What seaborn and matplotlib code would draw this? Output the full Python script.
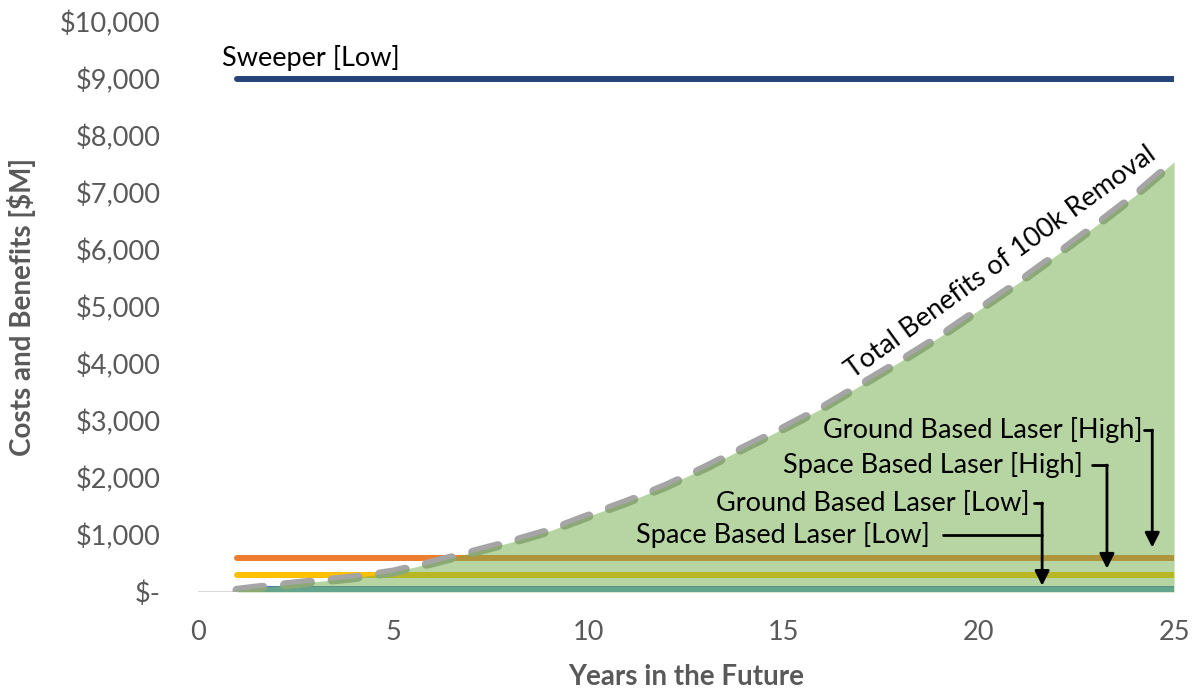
import numpy as np
import pandas as pd
import matplotlib
matplotlib.use("Agg")
import matplotlib.pyplot as plt
import seaborn as sns

# -----------------------------------------------
# Data
# -----------------------------------------------
years = list(range(1, 26))

# total benefits of removing 100k objects [$M]
benefits = [30, 110, 180, 250, 350, 510, 690, 870, 1070, 1330,
            1580, 1860, 2180, 2530, 2870, 3230, 3640, 4050, 4480, 4950,
            5420, 5920, 6430, 6960, 7550]

# cost options [$M], flat over the horizon
sweeper_low = [9000] * 25
ground_laser_high = [600] * 25
space_laser_high = [300] * 25
ground_laser_low = [50] * 25
space_laser_low = [30] * 25

cost_names = ["Sweeper [Low]", "Ground Based Laser [High]", "Space Based Laser [High]",
              "Ground Based Laser [Low]", "Space Based Laser [Low]"]
cost_values = [sweeper_low, ground_laser_high, space_laser_high, ground_laser_low, space_laser_low]
cost_colors = ["#264478", "#ED7D31", "#FFC000", "#4472C4", "#5B9BD5"]

costs = pd.DataFrame({
    "Year": years * len(cost_names),
    "Cost": sum(cost_values, []),
    "Option": sum([[n] * len(years) for n in cost_names], []),
})
ben = pd.DataFrame({"Year": years, "Benefit": benefits})

# -----------------------------------------------
# Plot
# -----------------------------------------------
sns.set_theme(style="white")
plt.rcParams["font.family"] = ["Lato", "DejaVu Sans"]

fig = plt.figure(figsize=(11.92, 6.94), dpi=100)
ax = fig.add_axes([0.166, 0.147, 0.819, 0.821])

sns.lineplot(data=costs, x="Year", y="Cost", hue="Option", palette=dict(zip(cost_names, cost_colors)),
             linewidth=4.3, legend=False, ax=ax, zorder=2)
for line in ax.get_lines():
    line.set_solid_capstyle("round")

sns.lineplot(data=ben, x="Year", y="Benefit", color="#A5A5A5", linewidth=6.5,
             ax=ax, zorder=3)
bl = ax.get_lines()[-1]
bl.set_dashes((2.9, 2.4))
bl.set_dash_capstyle("round")

# green area over the lines
ax.fill_between(ben["Year"], 0, ben["Benefit"], color="#70AD47", alpha=0.5, lw=0, zorder=4)

ax.axhline(0, color="#D9D9D9", lw=1.5, zorder=1)

ax.set_xlim(0, 25)
ax.set_ylim(0, 10000)
ax.set_xticks(range(0, 26, 5))
ax.set_yticks(range(0, 10001, 1000))
ax.set_yticklabels(["$-"] + [f"${v:,}" for v in range(1000, 10001, 1000)])
ax.tick_params(axis="both", length=0, labelsize=19.5, labelcolor="#595959")
ax.tick_params(axis="y", pad=27)
ax.tick_params(axis="x", pad=20)
for s in ax.spines.values():
    s.set_visible(False)

ax.set_xlabel("Years in the Future", fontsize=20, fontweight="bold", color="#595959", labelpad=14)
ax.set_ylabel("Costs and Benefits [$M]", fontsize=20, fontweight="bold", color="#595959", labelpad=17)

# labels
txt = dict(fontsize=19.5, color="black", zorder=6)
ax.text(0.61, 9370, "Sweeper [Low]", ha="left", va="center", **txt)
ax.text(20.55, 5780, "Total Benefits of 100k Removal", ha="center", va="center", rotation=36, **txt)

arrow = dict(arrowstyle="-|>", color="black", lw=2, mutation_scale=22, shrinkA=0, shrinkB=0)
# Ground Based Laser [High]
ax.text(24.2, 2842, "Ground Based Laser [High]", ha="right", va="center", **txt)
ax.plot([24.24, 24.44], [2842, 2842], color="black", lw=2, zorder=6)
ax.annotate("", xy=(24.44, 780), xytext=(24.44, 2842), arrowprops=arrow, zorder=6)
# Space Based Laser [High]
ax.text(22.67, 2228, "Space Based Laser [High]", ha="right", va="center", **txt)
ax.plot([22.9, 23.28], [2228, 2228], color="black", lw=2, zorder=6)
ax.annotate("", xy=(23.28, 410), xytext=(23.28, 2228), arrowprops=arrow, zorder=6)
# Ground Based Laser [Low]
ax.text(21.3, 1561, "Ground Based Laser [Low]", ha="right", va="center", **txt)
ax.plot([21.4, 21.62], [1561, 1561], color="black", lw=2, zorder=6)
ax.annotate("", xy=(21.62, 110), xytext=(21.62, 1561), arrowprops=arrow, zorder=6)
# Space Based Laser [Low]
ax.text(18.75, 1000, "Space Based Laser [Low]", ha="right", va="center", **txt)
ax.plot([19.08, 21.62], [1000, 1000], color="black", lw=2, zorder=6)

plt.savefig("out.png", dpi=100)
